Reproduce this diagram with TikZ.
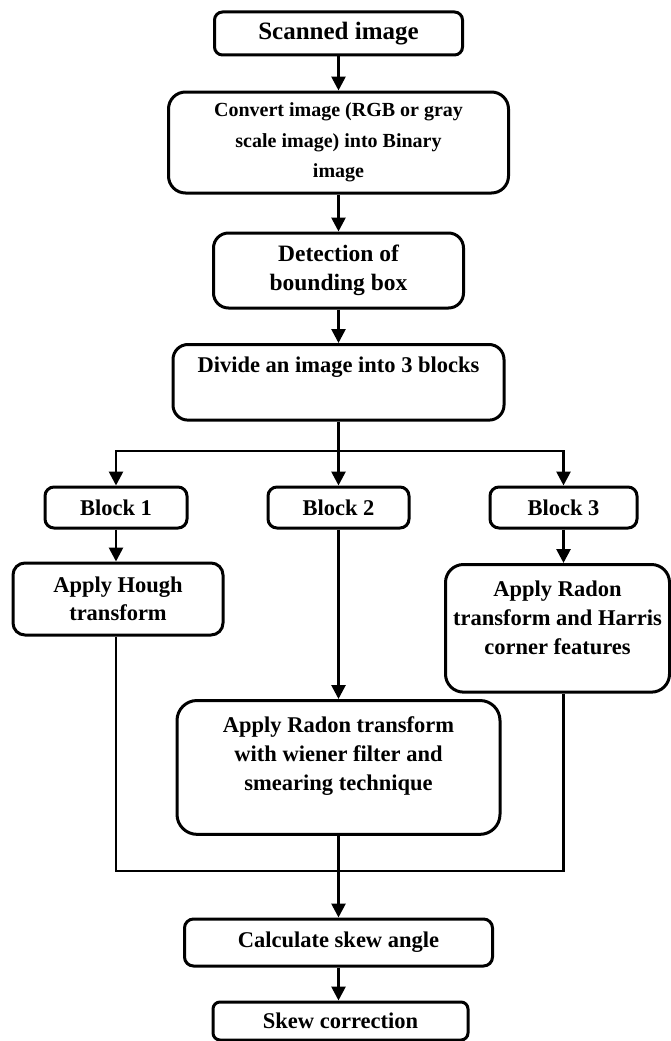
\documentclass[tikz,border=0pt]{standalone}
\usepackage{fontspec}
\setmainfont{Liberation Serif}
\usetikzlibrary{arrows.meta}
\tikzset{
  stage/.style={draw, line width=3pt, rounded corners=10pt, align=center,
    inner sep=0pt, font=\bfseries\fontsize{22.5}{29}\selectfont},
  flow/.style={line width=2.7pt, -{Triangle[length=14pt,width=14pt]}},
  wire/.style={line width=2.7pt},
}
\begin{document}
\begin{tikzpicture}[x=1pt,y=1pt]
  \useasboundingbox (0,0) rectangle (671,-1041);
  % main column
  \node (scan) at (338.5,-33.5) [stage, minimum width=248pt, minimum height=43pt,
    rounded corners=8pt, font=\bfseries\fontsize{25}{30}\selectfont] {Scanned image};
  \node (conv) at (338.5,-142.5) [stage, minimum width=340pt, minimum height=101pt,
    rounded corners=17pt, font=\bfseries\fontsize{20}{30.5}\selectfont]
    {Convert image (RGB or gray\\ scale image) into Binary\\ image};
  \node (detect) at (338.5,-270.5) [stage, minimum width=250pt, minimum height=75pt,
    rounded corners=15pt, font=\bfseries\fontsize{23.5}{29}\selectfont]
    {Detection of\\ bounding box};
  \node (divide) at (338.5,-343) [stage, anchor=north, minimum width=331pt,
    minimum height=75pt, inner ysep=12pt, text depth=36pt, rounded corners=15pt]
    {Divide an image into 3 blocks};
  % three blocks
  \node (blk1) at (116,-507.5) [stage, minimum width=142pt, minimum height=41pt,
    rounded corners=9pt] {Block 1};
  \node (blk2) at (338.5,-507.5) [stage, minimum width=141pt, minimum height=41pt,
    rounded corners=9pt] {Block 2};
  \node (blk3) at (563.5,-507.5) [stage, minimum width=147pt, minimum height=41pt,
    rounded corners=9pt] {Block 3};
  \node (hough) at (118,-599) [stage, minimum width=210pt, minimum height=72pt,
    rounded corners=12pt, font=\bfseries\fontsize{22.5}{28}\selectfont]
    {Apply Hough\\ transform};
  \node (harris) at (557.5,-563) [stage, anchor=north, minimum width=224pt,
    minimum height=127pt, inner ysep=16pt, text depth=22pt, rounded corners=18pt]
    {Apply Radon\\ transform and Harris\\ corner features};
  \node (radon) at (338.5,-699) [stage, anchor=north, minimum width=323pt,
    minimum height=133pt, inner ysep=16pt, text depth=28pt, rounded corners=20pt]
    {Apply Radon transform\\ with wiener filter and\\ smearing technique};
  \node (calc) at (338.5,-942.5) [stage, minimum width=308pt, minimum height=47pt,
    rounded corners=9pt] {Calculate skew angle};
  \node (skew) at (340.5,-1021) [stage, minimum width=255pt, minimum height=38pt,
    rounded corners=7pt] {Skew correction};
  \coordinate (split) at (338.5,-451);
  \coordinate (join) at (338.5,-871);
  % connectors
  \draw[flow] (scan) -- (conv);
  \draw[flow] (conv) -- (detect);
  \draw[flow] (detect) -- (divide);
  \draw[wire] (divide) -- (split);
  \draw[flow] (split) -| (blk1);
  \draw[flow] (split) -- (blk2);
  \draw[flow] (split) -| (blk3);
  \draw[flow] (blk1.south) -- (blk1.south |- hough.north);
  \draw[flow] (blk2) -- (radon);
  \draw[flow] (blk3.south) -- (blk3.south |- harris.north);
  \draw[wire] (hough.south -| blk1) |- (join) -| (harris.south -| blk3);
  \draw[flow] (radon) -- (calc);
  \draw[flow] (calc.south) -- (calc.south |- skew.north);
\end{tikzpicture}
\end{document}
